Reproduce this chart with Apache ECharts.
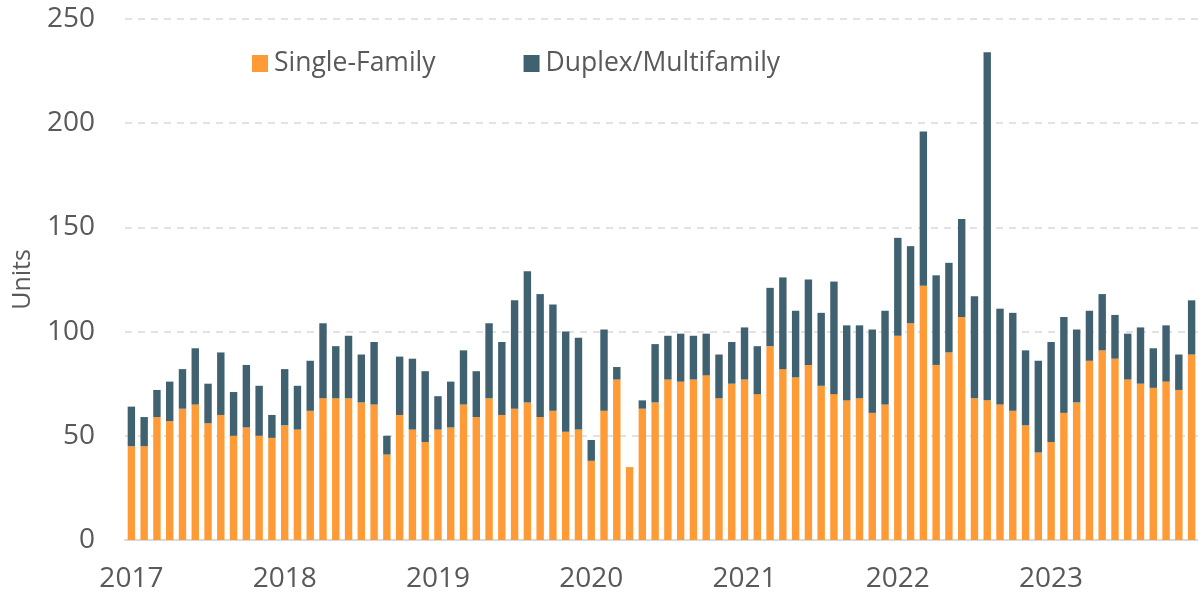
<!DOCTYPE html>
<html>
<head>
<meta charset="utf-8">
<title>Units</title>
<script src="https://cdn.jsdelivr.net/npm/echarts@6/dist/echarts.min.js"></script>
<style>
  html, body { margin: 0; padding: 0; background: #fff; }
  #chart { width: 1198px; height: 596px; }
</style>
</head>
<body>
<div id="chart"></div>
<script>
// monthly permits, Jan 2017 .. Dec 2023
var years = ['2017', '2018', '2019', '2020', '2021', '2022', '2023']
var months = ['01', '02', '03', '04', '05', '06', '07', '08', '09', '10', '11', '12']

var singleFamily = [
  45, 45, 59, 57, 63, 65, 56, 60, 50, 54, 50, 49,
  55, 53, 62, 68, 68, 68, 66, 65, 41, 60, 53, 47,
  53, 54, 65, 59, 68, 60, 63, 66, 59, 62, 52, 53,
  38, 62, 77, 35, 63, 66, 77, 76, 77, 79, 68, 75,
  77, 70, 93, 82, 78, 84, 74, 70, 67, 68, 61, 65,
  98, 104, 122, 84, 90, 107, 68, 67, 65, 62, 55, 42,
  47, 61, 66, 86, 91, 87, 77, 75, 73, 76, 72, 89
]
var multiFamily = [
  19, 14, 13, 19, 19, 27, 19, 30, 21, 30, 24, 11,
  27, 21, 24, 36, 25, 30, 23, 30, 9, 28, 34, 34,
  16, 22, 26, 22, 36, 35, 52, 63, 59, 51, 48, 44,
  10, 39, 6, 0, 4, 28, 21, 23, 21, 20, 21, 20,
  25, 23, 28, 44, 32, 41, 35, 54, 36, 35, 40, 45,
  47, 37, 74, 43, 43, 47, 49, 167, 46, 47, 36, 44,
  48, 46, 35, 24, 27, 21, 22, 27, 19, 27, 17, 26
]

var categories = []
years.forEach(function (y) {
  months.forEach(function (m) { categories.push(y + '-' + m) })
})

var textColor = '#595959'
var font = 'Open Sans'

var chart = echarts.init(document.getElementById('chart'), null, { renderer: 'canvas' })
chart.setOption({
  animation: false,
  backgroundColor: '#fff',
  grid: { left: 125, right: 0, top: 19, bottom: 56, containLabel: false },
  legend: {
    left: 247, top: 45,
    itemWidth: 16, itemHeight: 17, itemGap: 88,
    icon: 'rect',
    textStyle: { color: textColor, fontSize: 26.5, fontFamily: font, padding: [0, 0, 0, 1] },
    data: ['Single-Family', 'Duplex/Multifamily']
  },
  xAxis: {
    type: 'category',
    data: categories,
    axisTick: { show: false },
    axisLine: { lineStyle: { color: '#d9d9d9', width: 2 } },
    axisLabel: {
      interval: function (i) { return i % 12 === 0 },
      formatter: function (v) { return v.slice(0, 4) },
      color: textColor, fontSize: 28, fontFamily: font, margin: 25
    }
  },
  yAxis: {
    type: 'value',
    min: 0, max: 250, interval: 50,
    name: 'Units',
    nameLocation: 'middle',
    nameGap: 90,
    nameTextStyle: { color: textColor, fontSize: 25, fontFamily: font },
    axisLine: { show: false },
    axisTick: { show: false },
    axisLabel: { color: textColor, fontSize: 28, fontFamily: font, margin: 30 },
    splitLine: { lineStyle: { color: '#d9d9d9', width: 1.5, type: [7, 6] } }
  },
  series: [
    {
      name: 'Single-Family', type: 'bar', stack: 'units',
      data: singleFamily, barCategoryGap: '42%',
      itemStyle: { color: '#FF9B36' }
    },
    {
      name: 'Duplex/Multifamily', type: 'bar', stack: 'units',
      data: multiFamily, barCategoryGap: '42%',
      itemStyle: { color: '#3F6170' }
    }
  ]
})
</script>
</body>
</html>
